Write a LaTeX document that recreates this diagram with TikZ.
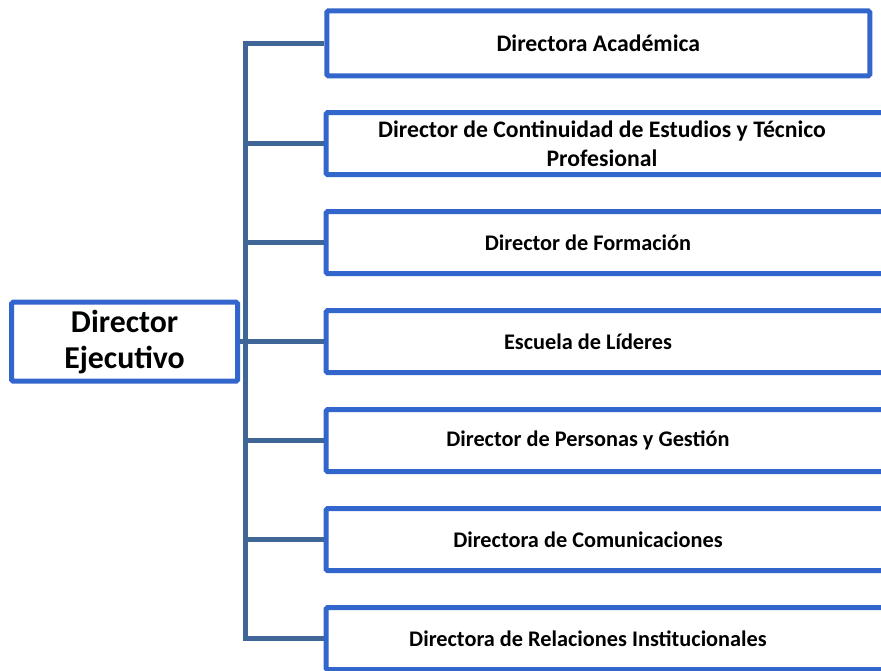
\documentclass[tikz,border=0pt]{standalone}
\usepackage{fontspec}
\setmainfont{Carlito}
\usepackage{tikz}
\usetikzlibrary{positioning}
\usetikzlibrary{calc}
\definecolor{boxblue}{RGB}{51,102,204}
\definecolor{linkblue}{RGB}{64,102,152}
\newcommand{\unitfont}{\fontsize{22.3}{27.5}\selectfont\bfseries}
\newcommand{\topfont}{\fontsize{23.7}{28.5}\selectfont\bfseries}
\newcommand{\bossfont}{\fontsize{31.8}{36}\selectfont\bfseries}

\begin{document}
\begin{tikzpicture}[x=1pt,y=1pt,node distance=99pt]
\tikzstyle{boss node}=[rectangle,draw=boxblue,fill=white,line width=5pt,rounded corners=1.5pt,minimum width=226pt,minimum height=79pt,align=center,font=\bossfont]
\tikzstyle{first node}=[rectangle,draw=boxblue,fill=white,line width=5pt,rounded corners=1.5pt,minimum width=543pt,minimum height=65pt]
\tikzstyle{unit node}=[rectangle,draw=boxblue,fill=white,line width=5pt,rounded corners=1.5pt,minimum width=574pt,minimum height=62pt]
\tikzstyle{unit label}=[align=center,font=\unitfont,inner sep=0pt]
\tikzstyle{top label}=[align=center,font=\topfont,inner sep=0pt]
\tikzset{
  branch/.style = {draw=linkblue,line width=5pt}
}

\useasboundingbox (0,0) rectangle (881,-671);
\clip (0,0) rectangle (881,-671);

    \node[boss node]   (boss)  at (124.6,-341.7) {Director\\Ejecutivo};
    \node[first node]  (b1)    at (598.3,-43.4)  {};
    \node[unit node]   (b2)    at (613,-143.7)   {};
    \node[unit node]   (b3)    [below of = b2]   {};
    \node[unit node]   (b4)    [below of = b3]   {};
    \node[unit node]   (b5)    [below of = b4]   {};
    \node[unit node]   (b6)    [below of = b5]   {};
    \node[unit node]   (b7)    [below of = b6]   {};
    \coordinate        (spine) at (245.8,0);
    %%%%%%%%%%%%%%%%%%%%%%%%%%%%%%%%%%
    \node[top label]   (t1) at (b1.center) {Directora Académica};
    \node[top label]   (t2) [xshift=-11pt] at (b2.center) {Director de Continuidad de Estudios y Técnico\\Profesional};
    \node[unit label]  (t3) [xshift=-25pt] at (b3.center) {Director de Formación};
    \node[unit label]  (t4) [xshift=-25pt] at (b4.center) {Escuela de Líderes};
    \node[unit label]  (t5) [xshift=-25pt] at (b5.center) {Director de Personas y Gestión};
    \node[unit label]  (t6) [xshift=-25pt] at (b6.center) {Directora de Comunicaciones};
    \node[unit label]  (t7) [xshift=-25pt] at (b7.center) {Directora de Relaciones Institucionales};

    \draw[branch] (b1.west) -| (spine |- b7.west) -- (b7.west);
    \draw[branch] (spine |- b2.west) -- (b2.west);
    \draw[branch] (spine |- b3.west) -- (b3.west);
    \draw[branch] (boss.east) -- (b4.west);
    \draw[branch] (spine |- b5.west) -- (b5.west);
    \draw[branch] (spine |- b6.west) -- (b6.west);
\end{tikzpicture}
\end{document}
